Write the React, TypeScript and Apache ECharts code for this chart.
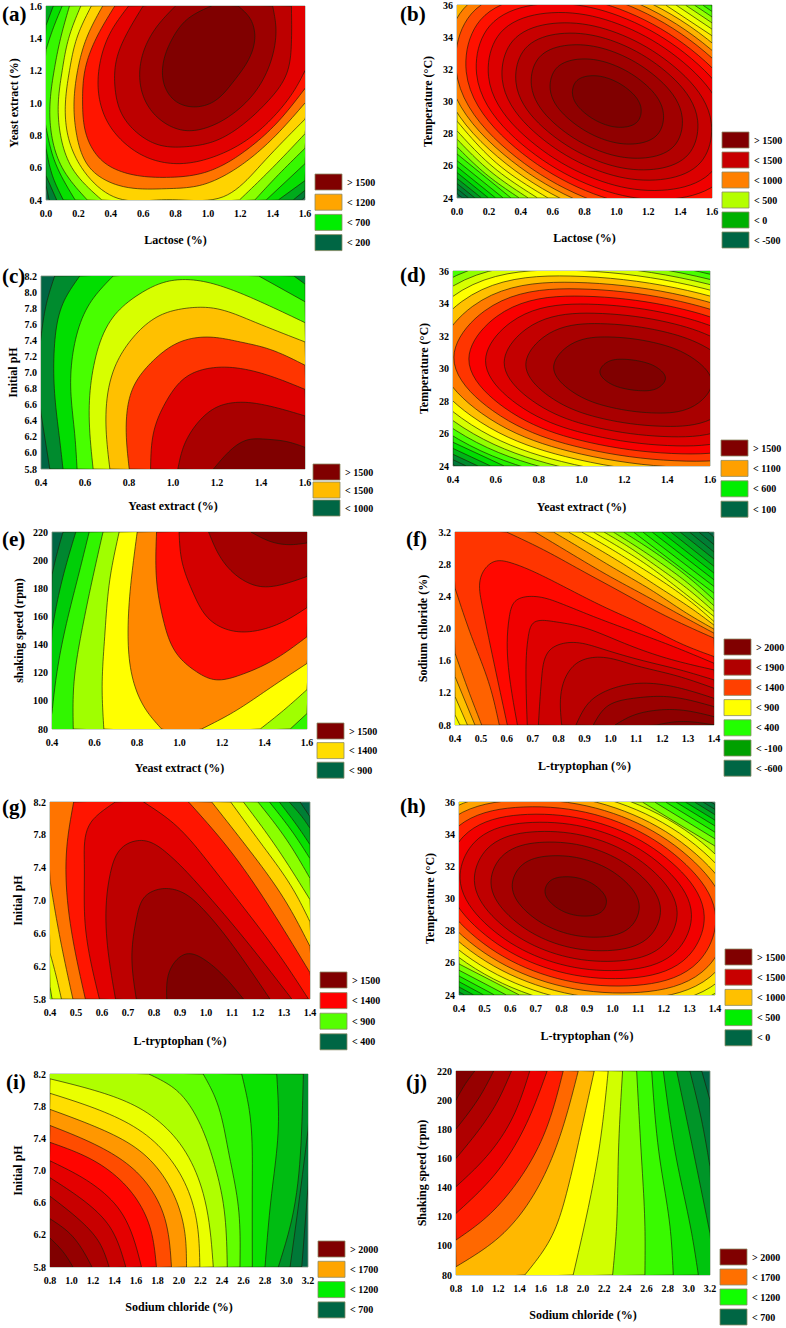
import React, { useEffect, useRef } from "react";
import * as echarts from "echarts";

type Path = (number[] | string)[];

// Contour lines, in axis units, lowest level first.
// Letters are the corners / side midpoints just outside the plot that close a region.
const contoursA: Path[] = [
  [[0,.49],[.02,.4],"BL",[1.58,.4],[1.6,.42],"TR","TL"],
  [[0,.55],[.066,.4],"BL",[1.527,.4],[1.6,.46],"TR","TL"],
  [[.045,1.6],[0,1.48],"L",[0,.72],[.04,.55],[.107,.4],"B",[1.435,.4],[1.6,.52],"R","TR"],
  [[.10,1.6],[.04,1.45],[0,1.33],"L",[0,.85],[.05,.65],[.18,.4],"B",[1.36,.4],[1.6,.625],"R","TR"],
  [[.145,1.6],[.09,1.4],[.05,1.2],[.025,1],[.035,.8],[.1,.6],[.255,.4],"B",[1.29,.4],[1.42,.54],[1.6,.72],"R","TR"],
  [[.215,1.6],[.14,1.4],[.1,1.2],[.076,1],[.09,.8],[.16,.6],[.345,.4],"B",[1.195,.4],[1.38,.58],[1.6,.81],"R","TR"],
  [[.28,1.6],[.19,1.4],[.145,1.2],[.12,1],[.135,.8],[.22,.6],[.445,.41],[.745,.402],[1.095,.42],[1.33,.62],[1.6,.9],"R","TR"],
  [[.35,1.6],[.25,1.4],[.195,1.2],[.173,1],[.19,.8],[.27,.6],[.45,.49],[.745,.47],[.95,.49],[1.1,.55],[1.239,.64],[1.4,.78],[1.6,1],"R","TR"],
  [[.425,1.6],[.31,1.4],[.24,1.2],[.226,1],[.25,.8],[.35,.64],[.52,.56],[.745,.54],[.98,.57],[1.1,.62],[1.239,.71],[1.42,.87],[1.6,1.09],"R","TR"],
  [[.51,1.6],[.395,1.43],[.333,1.245],[.323,1.08],[.374,.894],[.488,.75],[.642,.656],[.827,.625],[1.033,.666],[1.239,.77],[1.424,.935],[1.547,1.1],[1.6,1.2],"R","TR"],
  [[.6,1.6],[.5,1.43],[.436,1.27],[.426,1.1],[.467,.935],[.57,.81],[.7,.74],[.87,.73],[1.03,.76],[1.22,.87],[1.36,1],[1.486,1.18],[1.516,1.37],[1.516,1.6],"T"],
  [[.8,1.6],[.683,1.47],[.6,1.31],[.58,1.14],[.62,1],[.724,.883],[.858,.83],[1,.85],[1.156,.935],[1.3,1.08],[1.403,1.307],[1.42,1.47],[1.4,1.6],"T"],
  [[1.022,1.6],[.868,1.514],[.776,1.39],[.724,1.245],[.735,1.1],[.807,1.007],[.92,.976],[1.033,1.007],[1.156,1.13],[1.26,1.286],[1.29,1.41],[1.26,1.524],[1.187,1.6],"T"],
];

const contoursB: Path[] = [
  [[.035,24],[0,24.27],"TL","TR","BR"],
  [[.073,24],[0,24.58],"TL","TR","BR"],
  [[.113,24],[0,24.9],"TL","TR","BR"],
  [[.154,24],[0,25.22],"TL","TR","BR"],
  [[.198,24],[0,25.58],"TL","TR","BR"],
  [[.243,24],[0,25.94],"TL","TR","BR"],
  [[1.59,36],[1.6,35.93],"BR",[.29,24],[0,26.32],"TL"],
  [[1.541,36],[1.6,35.6],"BR",[.339,24],[0,26.74],"TL"],
  [[1.489,36],[1.6,35.26],"BR",[.391,24],[.18,25.5],[0,27.18],"TL"],
  [[1.433,36],[1.6,34.89],"BR",[.447,24],[.203,25.71],[0,27.66],"TL"],
  [[1.374,36],[1.6,34.5],"BR",[.506,24],[.226,25.93],[0,28.18],"TL"],
  [[1.309,36],[1.6,34.09],"BR",[.571,24],[.247,26.18],[0,28.78],"TL"],
  [[-.11,32.2],[-.008,36.06],[.45,37.84],[1.038,36.86],[1.626,33.43],[1.99,27.8],[1.888,23.94],[1.43,22.16],[.842,23.14],[.254,26.57]],
  [[-.06,32.09],[.04,35.75],[.475,37.44],[1.033,36.51],[1.591,33.255],[1.94,27.91],[1.84,24.25],[1.405,22.56],[.847,23.49],[.289,26.745]],
  [[-.006,31.98],[.089,35.44],[.5,37.04],[1.028,36.16],[1.556,33.08],[1.886,28.02],[1.791,24.56],[1.38,22.96],[.852,23.84],[.324,26.92]],
  [[.058,31.845],[.147,35.07],[.53,36.56],[1.022,35.74],[1.514,32.87],[1.822,28.155],[1.733,24.93],[1.35,23.44],[.858,24.26],[.366,27.13]],
  [[.123,31.71],[.205,34.697],[.56,36.08],[1.016,35.32],[1.472,32.66],[1.757,28.29],[1.675,25.303],[1.32,23.92],[.864,24.68],[.408,27.34]],
  [[.198,31.55],[.272,34.264],[.595,35.52],[1.009,34.83],[1.423,32.415],[1.682,28.45],[1.608,25.736],[1.285,24.48],[.871,25.17],[.457,27.585]],
  [[.284,31.37],[.35,33.77],[.635,34.88],[1.001,34.27],[1.367,32.135],[1.596,28.63],[1.53,26.23],[1.245,25.12],[.879,25.73],[.513,27.865]],
  [[.37,31.19],[.427,33.275],[.675,34.24],[.993,33.71],[1.311,31.855],[1.51,28.81],[1.453,26.725],[1.205,25.76],[.887,26.29],[.569,28.145]],
  [[.467,30.99],[.514,32.72],[.72,33.52],[.984,33.08],[1.248,31.54],[1.413,29.01],[1.366,27.28],[1.16,26.48],[.896,26.92],[.632,28.46]],
  [[.585,30.74],[.621,32.04],[.775,32.64],[.973,32.31],[1.171,31.16],[1.295,29.26],[1.259,27.96],[1.105,27.36],[.907,27.69],[.709,28.85]],
  [[.725,30.45],[.7465,31.236],[.84,31.6],[.96,31.4],[1.08,30.7],[1.155,29.55],[1.1335,28.764],[1.04,28.4],[.92,28.6],[.8,29.3]],
];

const contoursC: Path[] = [
  [[.462,8.2],[.425,7.86],[.4,7.44],"L",[.4,6.49],[.44,5.8],"BR","TR"],
  [[.576,8.2],[.5,7.86],[.462,7.36],[.462,6.74],[.485,6.16],[.5,5.8],"BR",[1.6,8.1],[1.55,8.2],"T"],
  [[.728,8.2],[.622,7.86],[.553,7.36],[.535,6.82],[.553,6.24],[.564,5.8],"BR",[1.6,7.88],[1.39,8.2],"T"],
  [[.637,5.8],[.619,6.53],[.645,7.15],[.728,7.69],[.85,7.98],[.971,8.13],[1.093,8.15],[1.245,8.05],[1.397,7.88],[1.6,7.62],"BR"],
  [[.713,5.8],[.695,6.41],[.736,7.07],[.82,7.44],[.941,7.71],[1.063,7.8],[1.184,7.8],[1.351,7.65],[1.6,7.38],"BR"],
  [[.801,5.8],[.789,6.45],[.82,6.82],[.911,7.15],[1.032,7.38],[1.169,7.44],[1.306,7.38],[1.427,7.3],[1.6,7.09],"BR"],
  [[.898,5.8],[.914,6.28],[.971,6.65],[1.063,6.95],[1.184,7.06],[1.306,7.05],[1.427,6.97],[1.6,6.79],"BR"],
  [[1.022,5.8],[1.047,6.07],[1.108,6.36],[1.2,6.57],[1.306,6.63],[1.427,6.59],[1.6,6.46],"BR"],
  [[1.184,5.8],[1.245,5.99],[1.336,6.16],[1.427,6.17],[1.518,6.14],[1.6,6.07],"BR"],
];

const contoursD: Path[] = [
  [[.411,24],[.4,24.07],"TL","TR","BR"],
  [[.462,24],[.4,24.39],"TL","TR","BR"],
  [[.517,24],[.4,24.72],"TL","TR","BR"],
  [[.576,24],[.4,25.08],"TL","TR","BR"],
  [[.639,24],[.4,25.46],"TL","TR","BR"],
  [[.067,31.13],[.266,35.115],[.887,37.03],[1.622,35.73],[2.158,32.66],[2.411,28.07],[2.212,24.09],[1.591,22.17],[.856,23.47],[.32,26.54]],
  [[.118,31.07],[.308,34.88],[.902,36.71],[1.606,35.46],[2.119,32.53],[2.36,28.13],[2.17,24.32],[1.576,22.49],[.872,23.74],[.359,26.67]],
  [[.168,31],[.35,34.64],[.917,36.39],[1.589,35.2],[2.079,32.4],[2.31,28.2],[2.128,24.56],[1.561,22.81],[.889,24],[.399,26.8]],
  [[.222,30.93],[.394,34.39],[.933,36.05],[1.572,34.92],[2.037,32.26],[2.256,28.27],[2.084,24.81],[1.545,23.15],[.906,24.28],[.441,26.94]],
  [[.278,30.86],[.441,34.12],[.95,35.69],[1.553,34.62],[1.993,32.11],[2.2,28.34],[2.037,25.08],[1.528,23.51],[.925,24.58],[.485,27.09]],
  [[.339,30.78],[.492,33.83],[.969,35.3],[1.533,34.3],[1.945,31.95],[2.139,28.42],[1.986,25.37],[1.509,23.9],[.945,24.9],[.533,27.25]],
  [[.404,30.69],[.546,33.53],[.988,34.9],[1.512,33.97],[1.894,31.78],[2.074,28.51],[1.932,25.67],[1.49,24.3],[.966,25.23],[.584,27.42]],
  [[.474,30.6],[.604,33.2],[1.009,34.45],[1.489,33.6],[1.839,31.6],[2.004,28.6],[1.874,26],[1.469,24.75],[.989,25.6],[.639,27.6]],
  [[.552,30.5],[.669,32.83],[1.032,33.96],[1.464,33.19],[1.778,31.4],[1.926,28.7],[1.809,26.37],[1.446,25.24],[1.014,26.01],[.7,27.8]],
  [[.639,30.38],[.741,32.42],[1.059,33.4],[1.435,32.74],[1.709,31.17],[1.839,28.82],[1.737,26.78],[1.419,25.8],[1.043,26.46],[.769,28.03]],
  [[.74,30.25],[.825,31.95],[1.089,32.76],[1.402,32.21],[1.63,30.9],[1.738,28.95],[1.653,27.25],[1.389,26.44],[1.076,26.99],[.848,28.3]],
  [[.87,30.08],[.933,31.335],[1.128,31.94],[1.359,31.53],[1.528,30.56],[1.608,29.12],[1.545,27.87],[1.35,27.26],[1.119,27.67],[.95,28.64]],
  [[1.086,29.8],[1.112,30.32],[1.193,30.57],[1.289,30.4],[1.359,30],[1.392,29.4],[1.366,28.88],[1.285,28.63],[1.189,28.8],[1.119,29.2]],
];

const contoursE: Path[] = [
  [[.452,220],[.42,202.6],[.4,189.6],"BL","BR","TR"],
  [[.512,220],[.46,193],[.42,167],[.4,150],"BL","BR","TR"],
  [[.575,220],[.523,188.4],[.468,155],[.42,117],[.4,92],"BL","BR","TR"],
  [[.64,220],[.593,188.4],[.538,148],[.502,110],[.5,80],"B",[1.521,80],[1.6,91],"R","TR"],
  [[.716,220],[.672,186],[.648,145.6],[.636,110],[.644,80],"B",[1.38,80],[1.49,93.3],[1.6,108],"R","TR"],
  [[.801,220],[.773,186],[.758,145.6],[.782,114.6],[.845,93],[.916,80],"B",[1.104,80],[1.254,92],[1.411,107.6],[1.6,126.6],"R","TR"],
  [[.892,220],[.892,186],[.924,157.5],[.986,133.7],[1.081,120.6],[1.16,115.2],[1.285,118.3],[1.442,129],[1.6,145.6],"TR"],
  [[.998,220],[1.01,200.3],[1.065,176.5],[1.144,157.5],[1.254,149.6],[1.38,150.4],[1.505,157.5],[1.6,166.3],"TR"],
  [[1.137,220],[1.19,202.7],[1.285,187.2],[1.38,181.3],[1.505,183.6],[1.6,188.4],"TR"],
  [[1.336,220],[1.427,213.3],[1.521,211],[1.6,212.2],"TR"],
];

const contoursF: Path[] = [
  [[1.377,3.2],[1.4,3.134],"BR","BL","TL"],
  [[1.341,3.2],[1.4,3.043],"BR","BL","TL"],
  [[1.305,3.2],[1.4,2.951],"BR","BL","TL"],
  [[1.269,3.2],[1.4,2.864],"BR","BL","TL"],
  [[1.233,3.2],[1.4,2.773],"BR","BL","TL"],
  [[1.197,3.2],[1.4,2.689],"BR","BL","TL"],
  [[1.161,3.2],[1.4,2.606],"BR","BL","TL"],
  [[1.125,3.2],[1.4,2.523],"BR","BL","TL"],
  [[1.089,3.2],[1.4,2.44],"BR","BL","TL"],
  [[1.05,3.2],[1.127,3.043],[1.23,2.814],[1.32,2.586],[1.4,2.357],"BR","BL","TL"],
  [[1.011,3.2],[1.095,3.03],[1.204,2.793],[1.307,2.544],[1.4,2.283],"BR","BL","TL"],
  [[.975,3.2],[1.063,3.03],[1.179,2.773],[1.294,2.503],[1.4,2.212],"BR","BL","TL"],
  [[.934,3.2],[1.024,3.03],[1.14,2.793],[1.269,2.482],[1.4,2.15],"BR","BL","TL"],
  [[.889,3.2],[.986,3.022],[1.101,2.793],[1.23,2.523],[1.333,2.274],[1.4,2.087],"BR",[.419,.8],[.4,.925],"TL"],
  [[.838,3.2],[.947,3],[1.063,2.773],[1.192,2.503],[1.32,2.233],[1.4,2.042],"BR",[.448,.8],[.4,1.153],"TL"],
  [[.78,3.2],[.895,2.98],[1.024,2.731],[1.166,2.461],[1.294,2.191],[1.4,1.992],"BR",[.477,.8],[.4,1.402],"TL"],
  [[.709,3.2],[.844,2.939],[.986,2.669],[1.14,2.399],[1.269,2.17],[1.4,1.942],"BR",[.503,.8],[.451,1.236],[.4,1.693],"TL"],
  [[.599,3.2],[.741,2.98],[.883,2.731],[1.037,2.461],[1.192,2.191],[1.4,1.88],"BR",[.571,.8],[.535,1.278],[.464,1.9],[.4,2.503],"TL"],
  [[.602,.8],[.548,1.61],[.503,2.316],[.503,2.669],[.554,2.835],[.619,2.814],[.715,2.69],[.831,2.503],[.986,2.253],[1.14,2.025],[1.269,1.817],[1.4,1.651],"BR"],
  [[.641,.8],[.612,1.361],[.61,2.15],[.632,2.337],[.702,2.399],[.805,2.316],[.934,2.15],[1.089,1.963],[1.243,1.776],[1.4,1.568],"BR"],
  [[.679,.8],[.674,1.444],[.683,1.9],[.702,2.067],[.78,2.087],[.883,2.025],[1.037,1.838],[1.217,1.631],[1.4,1.485],"BR"],
  [[.722,.8],[.735,1.402],[.767,1.734],[.844,1.826],[.96,1.755],[1.114,1.61],[1.269,1.485],[1.4,1.361],"BR"],
  [[.812,.8],[.818,1.319],[.87,1.568],[.96,1.643],[1.089,1.548],[1.243,1.423],[1.4,1.257],"BR"],
  [[.867,.8],[.921,1.091],[1.011,1.257],[1.114,1.319],[1.243,1.278],[1.4,1.132],"BR"],
  [[.934,.8],[.986,1.028],[1.089,1.132],[1.217,1.153],[1.4,1.028],"BR"],
  [[1.018,.8],[1.076,.904],[1.166,.979],[1.269,.987],[1.4,.904],"BR"],
  [[1.179,.8],[1.243,.837],[1.32,.837],[1.4,.8],"B"],
];

const contoursG: Path[] = [
  [[1.362,8.2],[1.4,8.02],"BR","BL","TL"],
  [[1.32,8.2],[1.374,8],[1.4,7.88],"BR","BL","TL"],
  [[1.282,8.2],[1.362,7.86],[1.4,7.68],"BR","BL","TL"],
  [[1.244,8.2],[1.336,7.82],[1.4,7.51],"BR","BL","TL"],
  [[1.2,8.2],[1.31,7.74],[1.4,7.27],"BR","BL","TL"],
  [[.408,5.8],[.4,5.95],"TL",[1.144,8.2],[1.26,7.7],[1.4,7.01],"BR"],
  [[.444,5.8],[.414,6.2],[.4,6.36],"TL",[1.095,8.2],[1.22,7.66],[1.336,7.13],[1.4,6.74],"BR"],
  [[.488,5.8],[.44,6.52],[.404,7.17],[.4,7.25],"TL",[1.022,8.2],[1.17,7.6],[1.31,6.97],[1.4,6.44],"BR"],
  [[.536,5.8],[.478,6.72],[.465,7.66],[.491,8.2],"T",[.933,8.2],[1.08,7.66],[1.234,6.97],[1.4,6.12],"BR"],
  [[.59,5.8],[.535,6.72],[.532,7.45],[.557,7.95],[.606,8.1],[.651,8.2],"T",[.76,8.2],[.875,7.94],[1.003,7.49],[1.131,6.97],[1.285,6.32],[1.394,5.8],"B"],
  [[.652,5.8],[.619,6.52],[.632,7.33],[.683,7.66],[.76,7.73],[.849,7.58],[.977,7.17],[1.131,6.6],[1.33,5.8],"B"],
  [[.732,5.8],[.715,6.32],[.734,6.8],[.766,7.05],[.824,7.14],[.901,7.11],[.99,6.89],[1.106,6.44],[1.246,5.8],"B"],
  [[.849,5.8],[.869,6.2],[.926,6.35],[1.003,6.26],[1.08,6.04],[1.144,5.8],"B"],
];

const contoursH: Path[] = [
  [[1.384,36],[1.4,35.85],"BR","BL","TL"],
  [[1.353,36],[1.4,35.54],"BR","BL","TL"],
  [[1.32,36],[1.4,35.21],"BR",[.422,24],[.4,24.19],"TL"],
  [[1.284,36],[1.4,34.87],"BR",[.458,24],[.4,24.5],"TL"],
  [[1.247,36],[1.4,34.51],"BR",[.497,24],[.4,24.83],"TL"],
  [[1.207,36],[1.4,34.12],"BR",[.539,24],[.4,25.18],"TL"],
  [[1.164,36],[1.4,33.71],"BR",[.585,24],[.4,25.54],"TL"],
  [[1.116,36],[1.4,33.26],"BR",[.636,24],[.4,25.93],"TL"],
  [[.156,31.88],[.244,35.32],[.594,37.24],[1.031,36.25],[1.381,33.045],[1.556,28.38],[1.468,24.94],[1.118,23.02],[.681,24.01],[.331,27.215]],
  [[.191,31.79],[.274,35.06],[.607,36.89],[1.022,35.95],[1.355,32.9],[1.521,28.47],[1.438,25.2],[1.105,23.37],[.69,24.31],[.357,27.36]],
  [[.228,31.7],[.307,34.79],[.621,36.51],[1.013,35.62],[1.327,32.745],[1.484,28.56],[1.405,25.48],[1.091,23.75],[.699,24.64],[.385,27.515]],
  [[.267,31.6],[.34,34.5],[.635,36.12],[1.003,35.29],[1.298,32.585],[1.445,28.66],[1.372,25.76],[1.077,24.14],[.709,24.97],[.414,27.675]],
  [[.309,31.5],[.377,34.19],[.651,35.69],[.993,34.92],[1.266,32.41],[1.403,28.76],[1.335,26.07],[1.061,24.57],[.719,25.34],[.446,27.85]],
  [[.354,31.38],[.417,33.85],[.668,35.23],[.981,34.52],[1.232,32.22],[1.358,28.88],[1.295,26.41],[1.044,25.03],[.731,25.74],[.48,28.04]],
  [[.404,31.26],[.46,33.49],[.686,34.73],[.969,34.09],[1.195,32.015],[1.308,29],[1.252,26.78],[1.026,25.53],[.743,26.17],[.517,28.245]],
  [[.46,31.12],[.509,33.07],[.707,34.16],[.955,33.6],[1.153,31.78],[1.252,29.14],[1.203,27.19],[1.005,26.1],[.757,26.665],[.559,28.48]],
  [[.525,30.96],[.566,32.59],[.732,33.5],[.939,33.03],[1.104,31.51],[1.187,29.3],[1.146,27.67],[.98,26.76],[.773,27.23],[.608,28.75]],
  [[.608,30.75],[.639,31.97],[.763,32.655],[.918,32.3],[1.042,31.165],[1.104,29.51],[1.073,28.29],[.949,27.6],[.794,27.96],[.67,29.095]],
  [[.736,30.43],[.751,31.02],[.811,31.35],[.886,31.18],[.946,30.63],[.976,29.83],[.961,29.24],[.901,28.91],[.826,29.08],[.766,29.63]],
];

const contoursI: Path[] = [
  [[3.2,6.797],[3.142,5.8],"BL","TL","TR"],
  [[3.2,7.5],[3.126,6.714],[3.033,5.8],"BL","TL","TR"],
  [[3.157,8.2],[3.142,7.542],[3.048,6.383],[2.924,5.8],"BL","TL"],
  [[2.909,8.2],[2.924,7.542],[2.862,6.714],[2.8,5.8],"BL","TL"],
  [[2.583,8.2],[2.654,7.749],[2.682,6.921],[2.682,5.8],"BL","TL"],
  [[2.225,8.2],[2.334,7.914],[2.458,7.252],[2.552,6.549],[2.567,5.8],"BL","TL"],
  [[1.719,8.2],[1.977,7.997],[2.163,7.666],[2.319,7.128],[2.412,6.59],[2.449,5.8],"BL","TL"],
  [[.8,8.14],[1.263,7.976],[1.666,7.749],[2.008,7.335],[2.225,6.714],[2.319,5.8],"BL"],
  [[.8,7.96],[1.263,7.749],[1.698,7.438],[2.008,6.963],[2.163,6.383],[2.194,5.8],"BL"],
  [[.8,7.76],[1.263,7.521],[1.666,7.211],[1.946,6.714],[2.055,6.218],[2.07,5.8],"BL"],
  [[.8,7.56],[1.263,7.294],[1.604,6.983],[1.853,6.466],[1.93,5.8],"BL"],
  [[.8,7.35],[1.2,7.128],[1.542,6.756],[1.729,6.3],[1.79,5.8],"BL"],
  [[.8,7.12],[1.139,6.88],[1.449,6.507],[1.651,5.8],"BL"],
  [[.8,6.91],[1.107,6.632],[1.356,6.3],[1.505,5.8],"BL"],
  [[.8,6.68],[1.076,6.383],[1.263,6.094],[1.35,5.8],"BL"],
  [[.8,6.4],[.983,6.218],[1.191,5.8],"BL"],
  [[.8,6.16],[.921,5.99],[1.014,5.8],"BL"],
];

const contoursJ: Path[] = [
  [[3.122,220],[3.2,200],"BR","BL","TL"],
  [[3.01,220],[3.12,186.4],[3.2,154.4],"BR","BL","TL"],
  [[2.885,220],[3.027,170.4],[3.2,108.6],"BR","BL","TL"],
  [[2.759,220],[2.885,158.9],[3.027,108.6],[3.09,80],"BL","TL"],
  [[2.649,220],[2.727,158.9],[2.822,113.2],[2.853,80],"BL","TL"],
  [[2.507,220],[2.554,158.9],[2.585,113.2],[2.585,80],"BL","TL"],
  [[2.374,220],[2.333,158.9],[2.317,113.2],[2.28,80],"BL","TL"],
  [[2.238,220],[2.16,170.4],[2.065,131.5],[1.907,80],"BL","TL"],
  [[2.106,220],[1.97,175],[1.844,136],[1.686,104],[1.45,80],"BL","TL"],
  [[1.955,220],[1.781,175],[1.56,138.3],[1.213,106.3],[.8,85.7],"TL"],
  [[1.813,220],[1.623,175],[1.371,142.9],[1.056,117.7],[.8,104],"TL"],
  [[1.661,220],[1.466,184],[1.15,147.5],[.8,122.3],"TL"],
  [[1.497,220],[1.339,188.7],[1.087,161.2],[.8,140.6],"TL"],
  [[1.324,220],[1.182,197.8],[.992,177.2],[.8,160],"TL"],
  [[1.156,220],[1.024,202.4],[.8,180.2],"TL"],
  [[.977,220],[.882,210.4],[.8,200],"TL"],
];

// Axis names and ranges
const panelLetters = ["(a)", "(b)", "(c)", "(d)", "(e)", "(f)", "(g)", "(h)", "(i)", "(j)"];
const xNames = ["Lactose (%)", "Lactose (%)", "Yeast extract (%)", "Yeast extract (%)", "Yeast extract (%)", "L-tryptophan (%)", "L-tryptophan (%)", "L-tryptophan (%)", "Sodium chloride (%)", "Sodium chloride (%)"];
const yNames = ["Yeast extract (%)", "Temperature (°C)", "Initial pH", "Temperature (°C)", "shaking speed (rpm)", "Sodium chloride (%)", "Initial pH", "Temperature (°C)", "Initial pH", "Shaking speed (rpm)"];
const xRanges = [[0, 1.6, .2], [0, 1.6, .2], [.4, 1.6, .2], [.4, 1.6, .2], [.4, 1.6, .2], [.4, 1.4, .1], [.4, 1.4, .1], [.4, 1.4, .1], [.8, 3.2, .2], [.8, 3.2, .2]];
const yRanges = [[.4, 1.6, .2], [24, 36, 2], [5.8, 8.2, .2], [24, 36, 2], [80, 220, 20], [.8, 3.2, .4], [5.8, 8.2, .4], [24, 36, 2], [5.8, 8.2, .4], [80, 220, 20]];
const legendLabels = [
  ["> 1500", "< 1200", "< 700", "< 200"],
  ["> 1500", "< 1500", "< 1000", "< 500", "< 0", "< -500"],
  ["> 1500", "< 1500", "< 1000"],
  ["> 1500", "< 1100", "< 600", "< 100"],
  ["> 1500", "< 1400", "< 900"],
  ["> 2000", "< 1900", "< 1400", "< 900", "< 400", "< -100", "< -600"],
  ["> 1500", "< 1400", "< 900", "< 400"],
  ["> 1500", "< 1500", "< 1000", "< 500", "< 0"],
  ["> 2000", "< 1700", "< 1200", "< 700"],
  ["> 2000", "< 1700", "< 1200", "< 700"],
];
const allContours = [contoursA, contoursB, contoursC, contoursD, contoursE, contoursF, contoursG, contoursH, contoursI, contoursJ];

// Layout and style
const plotRects = [[46, 6, 305, 200], [457, 5, 712, 198], [41, 276, 305, 469], [453, 271, 710, 466], [52, 532, 307, 729], [455, 532, 714, 725], [50, 802, 310, 999], [459, 802, 715, 995], [50, 1074, 308, 1267], [456, 1071, 710, 1275]];
const xNameGaps = [34, 34, 31, 35, 33, 35, 36, 35, 34, 34];
const yNameGaps = [26, 23, 22, 23, 27, 26, 26, 23, 26, 28];
const letterPos = [[2, 14], [400, 14], [2, 276], [400, 275], [2, 539], [406, 539], [2, 807], [400, 806], [6, 1082], [406, 1082]];
const legendPos = [[315, 174, 20.2], [722, 132, 20], [313, 464, 18], [721, 440, 20.4], [317, 723, 19.6], [724, 639, 20.2], [320, 972, 20.6], [725, 949, 20.2], [318, 1241, 20.3], [720, 1249, 20]];
const legendColors = [
  ["#800000", "#ffa500", "#00ee00", "#006644"],
  ["#800000", "#c80000", "#ff8000", "#b4ff00", "#00b000", "#006644"],
  ["#800000", "#ffbb00", "#006644"],
  ["#800000", "#ffa000", "#00ee00", "#006644"],
  ["#800000", "#ffdd00", "#006644"],
  ["#800000", "#b00000", "#ff4000", "#ffff00", "#22ff00", "#00a000", "#006644"],
  ["#800000", "#ff0000", "#55ff00", "#006644"],
  ["#800000", "#c80000", "#ffc000", "#00ee00", "#006644"],
  ["#800000", "#ffa500", "#00ee00", "#006644"],
  ["#800000", "#ff7000", "#11ff00", "#006644"],
];
const FONT = '"Liberation Serif", serif';
const rampStops: [number, number[]][] = [
  [0, [0, 102, 68]], [.11, [0, 138, 46]], [.22, [0, 221, 0]], [.33, [68, 255, 0]], [.44, [212, 255, 0]], [.5, [255, 255, 0]],
  [.56, [255, 187, 0]], [.64, [255, 85, 0]], [.71, [255, 0, 0]], [.79, [216, 0, 0]], [.89, [168, 0, 0]], [1, [128, 0, 0]],
];
function ramp(t: number): string {
  for (let i = 1; i < rampStops.length; i++) {
    const [t1, c1] = rampStops[i];
    const [t0, c0] = rampStops[i - 1];
    if (t <= t1) {
      const f = (t - t0) / (t1 - t0);
      return `rgb(${c0.map((v, j) => Math.round(v + (c1[j] - v) * f)).join(",")})`;
    }
  }
  return "rgb(128,0,0)";
}

// Solves a small linear system by elimination
function solve(A: number[][], b: number[]): number[] {
  const n = b.length;
  const M = A.map((r, i) => [...r, b[i]]);
  for (let c = 0; c < n; c++) {
    let piv = c;
    for (let r = c + 1; r < n; r++) if (Math.abs(M[r][c]) > Math.abs(M[piv][c])) piv = r;
    [M[c], M[piv]] = [M[piv], M[c]];
    for (let r = c + 1; r < n; r++) {
      const f = M[r][c] / M[c][c];
      for (let k = c; k <= n; k++) M[r][k] -= f * M[c][k];
    }
  }
  const x = new Array(n).fill(0);
  for (let r = n - 1; r >= 0; r--) {
    let s = M[r][n];
    for (let k = r + 1; k < n; k++) s -= M[r][k] * x[k];
    x[r] = s / M[r][r];
  }
  return x;
}

// Draws a smooth cubic spline through the contour's points (pixel space)
function spline(pts: number[][], closed: boolean): number[][] {
  const n = pts.length;
  if (n < 3) return pts;
  const segs = closed ? n : n - 1;
  const h: number[] = [];
  for (let i = 0; i < segs; i++) {
    const a = pts[i], b = pts[(i + 1) % n];
    h.push(Math.max(1e-3, Math.hypot(b[0] - a[0], b[1] - a[1])));
  }
  const second = [0, 1].map((d) => {
    const A = Array.from({ length: n }, () => new Array(n).fill(0));
    const r = new Array(n).fill(0);
    for (let i = 0; i < n; i++) {
      if (!closed && (i === 0 || i === n - 1)) { A[i][i] = 1; continue; }
      const pi = (i - 1 + n) % n, ni = (i + 1) % n;
      const h0 = h[closed ? pi : i - 1], h1 = h[i];
      A[i][pi] += h0; A[i][i] += 2 * (h0 + h1); A[i][ni] += h1;
      r[i] = 6 * ((pts[ni][d] - pts[i][d]) / h1 - (pts[i][d] - pts[pi][d]) / h0);
    }
    return solve(A, r);
  });
  const out: number[][] = [];
  for (let i = 0; i < segs; i++) {
    const j = (i + 1) % n;
    for (let s = 0; s < 10; s++) {
      const b = s / 10, a = 1 - b;
      out.push([0, 1].map((d) => a * pts[i][d] + b * pts[j][d] + ((a * a * a - a) * second[d][i] + (b * b * b - b) * second[d][j]) * h[i] * h[i] / 6));
    }
  }
  if (!closed) out.push(pts[n - 1].slice());
  return out;
}

function outside(code: string, r: { x: number; y: number; width: number; height: number }): number[] {
  const pad = 4;
  const l = r.x - pad, rr = r.x + r.width + pad, t = r.y - pad, b = r.y + r.height + pad;
  const cx = r.x + r.width / 2, cy = r.y + r.height / 2;
  const m: Record<string, number[]> = { TL: [l, t], T: [cx, t], TR: [rr, t], R: [rr, cy], BR: [rr, b], B: [cx, b], BL: [l, b], L: [l, cy] };
  return m[code];
}

function buildOption() {
  const grid: any[] = [], xAxis: any[] = [], yAxis: any[] = [], series: any[] = [], graphic: any[] = [];
  const label = { fontFamily: FONT, fontWeight: "bold", fontSize: 10, color: "#000" };
  allContours.forEach((paths, pi) => {
    const [x0, y0, x1, y1] = plotRects[pi];
    grid.push({ left: x0, top: y0, width: x1 - x0, height: y1 - y0, show: true, backgroundColor: ramp(0), borderColor: "#7d8f7d", borderWidth: .8, z: 0 });
    xAxis.push({
      type: "value", gridIndex: pi, min: xRanges[pi][0], max: xRanges[pi][1], interval: xRanges[pi][2],
      splitLine: { show: false }, axisLine: { show: false }, axisTick: { show: false },
      axisLabel: { ...label, margin: 8, showMinLabel: true, showMaxLabel: true, hideOverlap: false, formatter: (v: number) => v.toFixed(1) },
      name: xNames[pi], nameLocation: "middle", nameGap: xNameGaps[pi],
      nameTextStyle: { fontFamily: FONT, fontWeight: "bold", fontSize: 12, color: "#000" },
    });
    const yDec = yRanges[pi][2] >= 1 ? 0 : 1;
    yAxis.push({
      type: "value", gridIndex: pi, min: yRanges[pi][0], max: yRanges[pi][1], interval: yRanges[pi][2],
      splitLine: { show: false }, axisLine: { show: false }, axisTick: { show: false },
      axisLabel: { ...label, margin: 4, showMinLabel: true, showMaxLabel: true, hideOverlap: false, formatter: (v: number) => v.toFixed(yDec) },
      name: yNames[pi], nameLocation: "middle", nameGap: yNameGaps[pi], nameRotate: 90,
      nameTextStyle: { fontFamily: FONT, fontWeight: "bold", fontSize: 12, color: "#000" },
    });
    const n = paths.length;
    series.push({
      type: "custom", coordinateSystem: "cartesian2d", xAxisIndex: pi, yAxisIndex: pi, clip: true, silent: true,
      data: paths.map((_, i) => [i]),
      renderItem: (params: any, api: any) => {
        const path = paths[params.dataIndex];
        const rect = params.coordSys;
        const hasCodes = path.some((e) => typeof e === "string");
        const points: number[][] = [];
        let run: number[][] = [];
        const flush = () => { if (run.length) { points.push(...spline(run, !hasCodes)); run = []; } };
        path.forEach((e) => {
          if (typeof e === "string") { flush(); points.push(outside(e, rect)); }
          else run.push(api.coord(e));
        });
        flush();
        return {
          type: "polygon",
          shape: { points },
          style: { fill: ramp((params.dataIndex + 1) / n), stroke: "#1c1c08", lineWidth: .65 },
        };
      },
    });
    graphic.push({ type: "text", x: letterPos[pi][0], y: letterPos[pi][1], style: { text: panelLetters[pi], font: `bold 21px ${FONT}`, fill: "#000", verticalAlign: "middle" } });
    const [lx, ly, step] = legendPos[pi];
    legendLabels[pi].forEach((txt, i) => {
      graphic.push({ type: "rect", x: lx, y: ly + i * step, shape: { width: 27, height: 16 }, style: { fill: legendColors[pi][i], stroke: "#8c8c64", lineWidth: .8 } });
      graphic.push({ type: "text", x: lx + 32, y: ly + i * step + 8, style: { text: txt, font: `bold 10px ${FONT}`, fill: "#000", verticalAlign: "middle" } });
    });
  });
  return { animation: false, backgroundColor: "#fff", grid, xAxis, yAxis, series, graphic };
}

export default function App() {
  const ref = useRef<HTMLDivElement>(null);
  useEffect(() => {
    document.body.style.margin = "0";
    const chart = echarts.init(ref.current!, undefined, { renderer: "svg" });
    chart.setOption(buildOption() as any);
    return () => chart.dispose();
  }, []);
  return <div ref={ref} style={{ width: 786, height: 1328 }} />;
}
